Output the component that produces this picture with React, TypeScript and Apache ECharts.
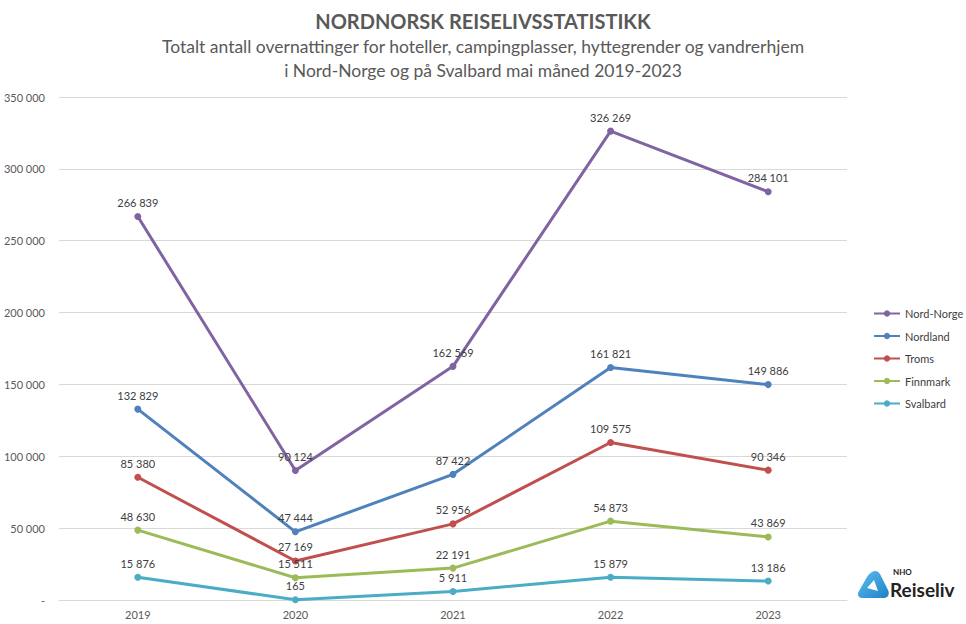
import React, { useEffect, useRef } from "react";
import * as echarts from "echarts";

const years = ["2019", "2020", "2021", "2022", "2023"];
const nordNorge = [266839, 90124, 162569, 326269, 284101];
const nordland = [132829, 47444, 87422, 161821, 149886];
const troms = [85380, 27169, 52956, 109575, 90346];
const finnmark = [48630, 15511, 22191, 54873, 43869];
const svalbard = [15876, 165, 5911, 15879, 13186];

const seriesNames = ["Nord-Norge", "Nordland", "Troms", "Finnmark", "Svalbard"];
const seriesColors = ["#8064A2", "#4F81BD", "#C0504D", "#9BBB59", "#4BACC6"];
const seriesData = [nordNorge, nordland, troms, finnmark, svalbard];

const titleText = "NORDNORSK REISELIVSSTATISTIKK";
const subtitleLines = [
  "Totalt antall overnattinger for hoteller, campingplasser, hyttegrender og vandrerhjem",
  "i Nord-Norge og på Svalbard mai måned 2019-2023",
];

const FONT = "Lato, 'Open Sans', sans-serif";

const fmt = (v: number) => {
  if (v === 0) return "-";
  return String(Math.round(v)).replace(/\B(?=(\d{3})+(?!\d))/g, " ");
};

const logoD =
  "M14 1 C17 -1 20 0 22 3 L30 19 C32 23 30 27 26 27 L4 27 C0 27 -1 23 1 20 L9 6 C10 4 12 2 14 1 Z M16 9 L9 17 L20 20 Z";

let registered = false;

export default function App() {
  const ref = useRef<HTMLDivElement>(null);
  useEffect(() => {
    if (!registered) {
      echarts.graphic.registerShape("logo", echarts.graphic.extendPath(logoD, {}) as any);
      registered = true;
    }
    const chart = echarts.init(ref.current!, null, { renderer: "svg" });
    chart.setOption({
      animation: false,
      backgroundColor: "#ffffff",
      title: [
        {
          text: titleText,
          left: "center",
          top: 6,
          textStyle: { fontFamily: FONT, fontSize: 20, fontWeight: "bold", color: "#595959" },
        },
        ...subtitleLines.map((t, i) => ({
          text: t,
          left: "center",
          top: 32 + i * 24,
          textStyle: {
            fontFamily: FONT,
            fontSize: 17.5,
            fontWeight: "normal",
            color: "#595959",
          },
        })),
      ],
      legend: {
        orient: "vertical",
        left: 868,
        top: 303,
        itemWidth: 26,
        itemHeight: 8,
        itemGap: 11.5,
        data: seriesNames,
        textStyle: { fontFamily: FONT, fontSize: 11, color: "#404040" },
      },
      grid: { left: 59, right: 119, top: 97, bottom: 24, containLabel: false },
      xAxis: {
        type: "category",
        data: years,
        boundaryGap: true,
        axisLine: { show: true, lineStyle: { color: "#d9d9d9" } },
        axisTick: { show: false },
        axisLabel: { fontFamily: FONT, fontSize: 11, color: "#595959", margin: 9 },
      },
      yAxis: {
        type: "value",
        min: 0,
        max: 350000,
        interval: 50000,
        axisLine: { show: false },
        axisTick: { show: false },
        splitLine: { lineStyle: { color: "#d9d9d9" } },
        axisLabel: {
          fontFamily: FONT,
          fontSize: 11,
          color: "#595959",
          margin: 14,
          formatter: (v: number) => fmt(v),
        },
      },
      series: seriesNames.map((name, i) => ({
        name,
        type: "line",
        data: seriesData[i],
        symbol: "circle",
        symbolSize: 7,
        color: seriesColors[i],
        lineStyle: { width: 3, color: seriesColors[i] },
        itemStyle: { color: seriesColors[i] },
        label: {
          show: true,
          position: "top",
          distance: 5,
          fontFamily: FONT,
          fontSize: 11,
          color: "#404040",
          formatter: (p: any) => fmt(p.value),
        },
      })),
      graphic: [
        {
          type: "logo",
          x: 858,
          y: 571,
          scaleX: 1,
          scaleY: 1,
          style: {
            fill: new echarts.graphic.LinearGradient(0, 0, 1, 1, [
              { offset: 0, color: "#5ec0ee" },
              { offset: 1, color: "#1f7fc8" },
            ]),
          },
        },
        {
          type: "text",
          x: 893,
          y: 568,
          style: { text: "NHO", fontFamily: FONT, fontSize: 8, fontWeight: "bold", fill: "#222" },
        },
        {
          type: "text",
          x: 890,
          y: 580,
          style: { text: "Reiseliv", fontFamily: FONT, fontSize: 19, fontWeight: "bold", fill: "#222" },
        },
      ],
    });
    return () => chart.dispose();
  }, []);
  return <div ref={ref} style={{ width: 966, height: 624, position: "absolute", left: 0, top: 0 }} />;
}
